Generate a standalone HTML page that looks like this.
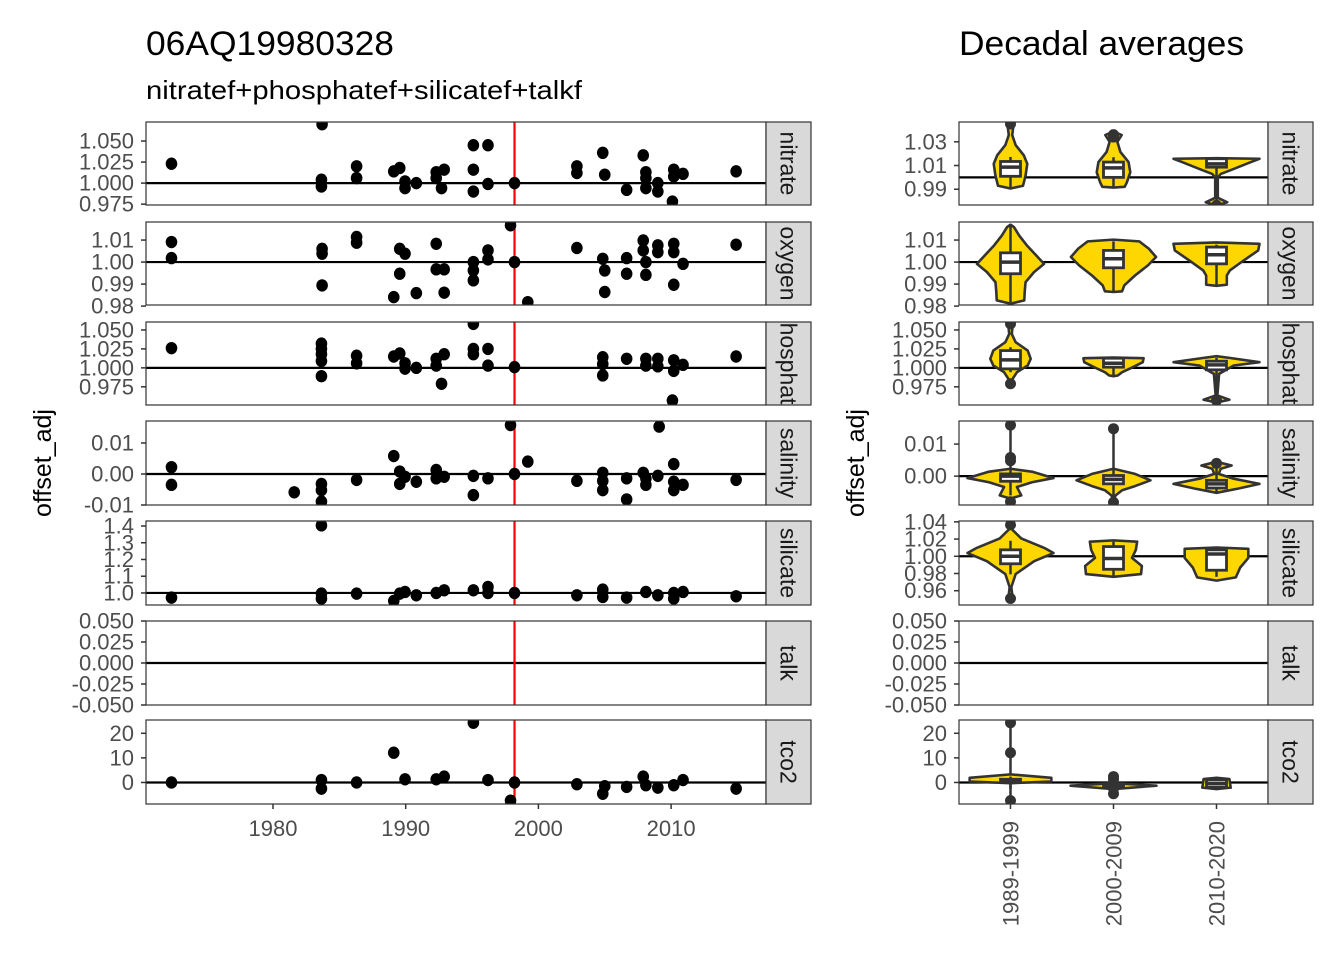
<!DOCTYPE html>
<html><head><meta charset="utf-8"><style>
html,body{margin:0;padding:0;background:#fff;}
svg{display:block;font-family:"Liberation Sans",Arial,sans-serif;}
</style></head><body>
<svg id="chart" width="1344" height="960" viewBox="0 0 1344 960" xmlns="http://www.w3.org/2000/svg">
<text x="146" y="55" font-size="34" fill="#000" textLength="248" lengthAdjust="spacingAndGlyphs">06AQ19980328</text>
<text x="146" y="99" font-size="26" fill="#000" textLength="436" lengthAdjust="spacingAndGlyphs">nitratef+phosphatef+silicatef+talkf</text>
<text x="959" y="55" font-size="34" fill="#000" textLength="285" lengthAdjust="spacingAndGlyphs">Decadal averages</text>
<text transform="translate(51,463) rotate(-90)" text-anchor="middle" font-size="25" fill="#000">offset_adj</text>
<text transform="translate(864,463) rotate(-90)" text-anchor="middle" font-size="25" fill="#000">offset_adj</text>
<g id="layer"></g>
</svg>
<script>
// ---------- data: left (time series) ----------
const vars = ["nitrate","oxygen","phosphate","salinity","silicate","talk","tco2"];
const stripLabels = ["nitrate","oxygen","hosphat","salinity","silicate","talk","tco2"];
const refYear = 1998.2;
const xTicks = [1980,1990,2000,2010];
const nitrateYear=[1972.35,1983.7,1983.65,1983.65,1986.3,1986.3,1989.1,1989.55,1989.95,1989.95,1990.8,1992.3,1992.9,1992.3,1992.7,1995.1,1996.2,1995.1,1996.2,1995.1,1998.2,2002.9,2002.9,2004.85,2005.0,2006.65,2007.9,2008.1,2008.1,2008.1,2009.0,2009.0,2010.2,2010.2,2010.9,2010.1,2014.9];
const nitrateVal=[1.023,1.070,1.004,0.996,1.020,1.006,1.014,1.018,1.002,0.994,1.000,1.013,1.016,1.006,0.994,1.045,1.045,1.016,0.999,0.990,1.000,1.020,1.012,1.036,1.010,0.992,1.033,1.013,1.006,0.994,1.000,0.990,1.016,1.008,1.011,0.978,1.014];
const oxygenYear=[1972.35,1972.35,1983.7,1983.7,1983.7,1986.3,1986.3,1989.55,1989.95,1989.55,1989.1,1990.8,1992.3,1992.3,1992.9,1992.9,1995.1,1995.1,1995.1,1996.2,1996.2,1997.9,1998.2,1999.2,2002.9,2004.85,2005.0,2005.0,2006.65,2006.65,2007.9,2007.9,2008.1,2008.1,2009.0,2009.0,2010.2,2010.2,2010.2,2010.9,2014.9];
const oxygenVal=[1.0091,1.0018,1.006,1.0038,0.9894,1.0114,1.0088,1.006,1.0038,0.9947,0.9841,0.9859,1.0083,0.9967,0.9967,0.9861,1.000,0.9962,0.9917,1.0053,1.0012,1.0167,1.000,0.9818,1.0064,1.0015,0.9962,0.9864,1.0018,0.9947,1.0098,1.0053,1.000,0.9942,1.0076,1.0045,1.0083,1.0045,0.9897,0.9992,1.0079];
const phosphateYear=[1972.35,1983.65,1983.65,1983.65,1983.65,1983.65,1986.3,1986.3,1989.1,1989.55,1989.95,1989.95,1990.8,1992.3,1992.9,1992.3,1992.7,1995.1,1995.1,1995.1,1996.2,1996.2,1998.2,2004.85,2004.85,2004.85,2006.65,2008.1,2008.1,2009.0,2009.0,2010.2,2010.2,2010.9,2010.1,2014.9];
const phosphateVal=[1.026,1.032,1.025,1.018,1.009,0.989,1.016,1.006,1.015,1.019,1.006,0.999,1.000,1.012,1.018,1.003,0.979,1.058,1.025,1.018,1.025,1.003,1.001,1.014,1.005,0.990,1.012,1.012,1.003,1.012,1.002,1.010,0.996,1.004,0.957,1.015];
const salinityYear=[1972.35,1972.35,1981.6,1983.65,1983.65,1983.65,1986.3,1989.1,1989.55,1989.95,1989.55,1990.8,1992.3,1992.3,1992.9,1995.1,1995.1,1996.2,1997.9,1998.2,1999.2,2002.9,2004.85,2004.85,2004.85,2006.65,2006.65,2007.9,2008.1,2008.1,2009.0,2009.1,2010.2,2010.2,2010.2,2010.9,2014.9];
const salinityVal=[0.0022,-0.0035,-0.0059,-0.0032,-0.0052,-0.0089,-0.0019,0.0058,0.0008,-0.0009,-0.0032,-0.0025,0.0013,-0.0014,-0.0009,-0.0006,-0.0068,-0.0014,0.0158,0,0.0040,-0.0022,0.0004,-0.0022,-0.0052,-0.0014,-0.0082,0.0004,-0.0014,-0.0035,-0.0006,0.0153,0.0032,-0.0025,-0.0052,-0.0035,-0.0019];
const silicateYear=[1972.35,1983.65,1983.65,1983.65,1986.3,1989.1,1989.55,1989.95,1990.8,1992.3,1992.9,1995.1,1996.2,1996.2,1998.2,2002.9,2004.85,2004.85,2006.65,2008.1,2009.0,2010.2,2010.2,2010.9,2014.9];
const silicateVal=[0.972,1.404,0.996,0.966,0.996,0.952,0.996,1.006,0.986,1.000,1.016,1.016,1.036,1.000,1.000,0.986,1.020,0.976,0.972,1.006,0.986,1.000,0.966,1.006,0.980];
const talkYear=[];
const talkVal=[];
const tco2Year=[1972.35,1983.65,1983.65,1986.3,1989.1,1989.95,1992.3,1992.9,1995.1,1996.2,1997.9,1998.2,2002.9,2004.85,2005.0,2006.65,2007.9,2008.1,2009.0,2010.2,2010.9,2014.9];
const tco2Val=[0,1.0,-2.5,0,12.1,1.3,1.3,2.4,24.3,1.0,-7.4,0,-0.7,-4.6,-1.5,-1.8,2.4,-1.1,-2.1,-1.1,1.0,-2.5];

// ---------- data: right (decadal violins) ----------
const decades = ["1989-1999","2000-2009","2010-2020"];
const nitrateVioVals=[[1.0458,1.0415,1.0357,1.0272,1.0186,1.0114,1.0014,0.9929,0.9906],[1.0386,1.0357,1.030,1.0215,1.0129,1.0043,0.9957,0.992,0.9914],[1.0162,1.0157,1.0129,1.0071,1.0029,1.0,0.9828,0.979,0.9763]];
const nitrateVioDens=[[0,0.06,0.04,0.12,0.31,0.39,0.35,0.29,0],[0,0.19,0.09,0.16,0.35,0.39,0.31,0.26,0],[0,1.0,0.8,0.4,0.1,0.03,0.03,0.25,0]];
const nitrateBox=[[0.9914,1.0009,1.0086,1.0134,1.0172],[0.992,1.000,1.008,1.0129,1.017],[0.978,1.0086,1.0114,1.0157,1.0157]];
const nitrateOut=[[1.045],[1.036,1.034],[0.9765]];
const oxygenVioVals=[[1.017,1.0159,1.0121,1.0076,1.003,0.9992,0.9955,0.9909,0.9864,0.9826,0.9811],[1.0102,1.0094,1.0061,1.0023,0.9985,0.9939,0.9894,0.9867,0.9864],[1.0089,1.0083,1.0053,1.0,0.9962,0.9939,0.9897,0.9892]];
const oxygenVioDens=[[0,0.08,0.2,0.38,0.6,0.78,0.55,0.35,0.33,0.32,0],[0,0.6,0.82,0.99,0.8,0.5,0.25,0.2,0],[0,1.0,0.97,0.58,0.31,0.24,0.24,0]];
const oxygenBox=[[0.9818,0.9947,1.0,1.0042,1.0167],[0.9867,0.9974,1.0015,1.0053,1.0094],[0.9897,0.9992,1.0033,1.0068,1.0079]];
const oxygenOut=[[],[],[]];
const phosphateVioVals=[[1.0601,1.0558,1.0448,1.0338,1.0228,1.0119,1.0031,0.9943,0.9855,0.978],[1.0136,1.0127,1.0075,1.0009,0.9943,0.9899,0.989],[1.0154,1.0132,1.0075,1.0031,0.9921,0.9636,0.958,0.9543]];
const phosphateVioDens=[[0,0.05,0.03,0.12,0.4,0.47,0.4,0.15,0.05,0],[0,0.7,0.68,0.45,0.2,0.1,0],[0,0.3,1.0,0.4,0.06,0.02,0.3,0]];
const phosphateBox=[[0.9943,0.9987,1.0105,1.0228,1.0272],[0.989,1.0009,1.0061,1.0127,1.0127],[0.962,0.9974,1.004,1.0088,1.0132]];
const phosphateOut=[[1.058,0.979],[],[0.957]];
const salinityVioVals=[[0.0023,0.0014,-0.0006,-0.0019,-0.0034,-0.006,-0.007],[0.0023,0.0007,-0.0013,-0.0031,-0.0044,-0.006,-0.0075],[0.0045,0.0033,0.0023,0.0007,-0.0008,-0.0024,-0.0039,-0.0052]];
const salinityVioDens=[[0,0.5,1.0,0.5,0.15,0.25,0],[0,0.5,0.86,0.5,0.2,0.05,0],[0,0.35,0.1,0.05,0.4,1.0,0.5,0]];
const salinityBox=[[-0.006,-0.0016,0,0.0007,0.0022],[-0.0075,-0.0024,-0.001,0.0002,0.0023],[-0.0052,-0.0037,-0.0024,-0.0013,0.0033]];
const salinityOut=[[0.0159,0.0058,0.0048,-0.008],[0.0148,-0.0082],[0.004]];
const silicateVioVals=[[1.0366,1.032,1.0207,1.0094,1.0038,0.9943,0.9793,0.9642,0.951,0.947],[1.0185,1.017,1.0075,0.9981,0.9887,0.9793,0.9762],[1.0102,1.0087,0.9981,0.9868,0.9755,0.9717]];
const silicateVioDens=[[0,0.02,0.25,0.8,1.0,0.55,0.12,0.02,0.05,0],[0,0.55,0.52,0.43,0.66,0.64,0],[0,0.74,0.74,0.55,0.45,0]];
const silicateBox=[[0.979,0.9913,1.0,1.0075,1.018],[0.9775,0.9849,0.9974,1.0113,1.017],[0.9762,0.9838,1.0026,1.0075,1.0087]];
const silicateOut=[[1.0366,0.951],[],[]];
const talkVioVals=[[],[],[]];
const talkVioDens=[[],[],[]];
const talkBox=[null,null,null];
const talkOut=[[],[],[]];
const tco2VioVals=[[3.3,1.9,0.4,-0.3],[-0.3,-1.3,-2.7],[1.9,1.4,-2.1,-2.7]];
const tco2VioDens=[[0,0.95,0.95,0],[0,1.0,0],[0,0.3,0.33,0]];
const tco2Box=[[-2.5,0.2,0.9,1.3,2.4],[-2.5,-2.0,-1.3,-0.5,1.0],[-2.5,-2.0,-0.5,1.0,1.0]];
const tco2Out=[[24.3,12.1,-7.4],[2.4,1.3,-4.6,-2.5],[]];

// ---------- layout (not data) ----------
const NS="http://www.w3.org/2000/svg";
const layer=document.getElementById('layer');
const rows=[[122,205],[222,305],[322,405],[421,505],[521,605],[621,705],[720,804]];
const L={x0:146,x1:766,s1:811}, R={x0:959,x1:1268,s1:1313};
const leftDom=[[1.0726,0.974],[1.0182,0.9805],[1.0605,0.951],[0.0171,-0.0100],[1.43,0.928],[0.05,-0.05],[25.4,-8.75]];
const rightDom=[[1.0467,0.9767],[1.0182,0.9805],[1.0605,0.951],[0.0172,-0.009],[1.041,0.9434],[0.05,-0.05],[25.4,-8.75]];
const leftTicks=[[1.05,1.025,1,0.975],[1.01,1.00,0.99,0.98],[1.05,1.025,1,0.975],[0.01,0,-0.01],[1.4,1.3,1.2,1.1,1.0],[0.05,0.025,0,-0.025,-0.05],[20,10,0]];
const leftTickLab=[["1.050","1.025","1.000","0.975"],["1.01","1.00","0.99","0.98"],["1.050","1.025","1.000","0.975"],["0.01","0.00","-0.01"],["1.4","1.3","1.2","1.1","1.0"],["0.050","0.025","0.000","-0.025","-0.050"],["20","10","0"]];
const rightTicks=[[1.03,1.01,0.99],[1.01,1.00,0.99,0.98],[1.05,1.025,1,0.975],[0.01,0],[1.04,1.02,1.00,0.98,0.96],[0.05,0.025,0,-0.025,-0.05],[20,10,0]];
const rightTickLab=[["1.03","1.01","0.99"],["1.01","1.00","0.99","0.98"],["1.050","1.025","1.000","0.975"],["0.01","0.00"],["1.04","1.02","1.00","0.98","0.96"],["0.050","0.025","0.000","-0.025","-0.050"],["20","10","0"]];
const ptYears=[nitrateYear,oxygenYear,phosphateYear,salinityYear,silicateYear,talkYear,tco2Year];
const ptVals=[nitrateVal,oxygenVal,phosphateVal,salinityVal,silicateVal,talkVal,tco2Val];
const vioVals=[nitrateVioVals,oxygenVioVals,phosphateVioVals,salinityVioVals,silicateVioVals,talkVioVals,tco2VioVals];
const vioDens=[nitrateVioDens,oxygenVioDens,phosphateVioDens,salinityVioDens,silicateVioDens,talkVioDens,tco2VioDens];
const boxes=[nitrateBox,oxygenBox,phosphateBox,salinityBox,silicateBox,talkBox,tco2Box];
const outs=[nitrateOut,oxygenOut,phosphateOut,salinityOut,silicateOut,talkOut,tco2Out];

const yearMin=1980-127/13.27, yearMax=1980+493/13.27;
const xYear=v=>L.x0+(v-yearMin)/(yearMax-yearMin)*(L.x1-L.x0);
const xCat=i=>R.x0+(i+0.5)/3*(R.x1-R.x0);
const yScale=(dom,row)=>v=>rows[row][0]+(dom[0]-v)/(dom[0]-dom[1])*(rows[row][1]-rows[row][0]);
function mk(tag,attrs,parent){const e=document.createElementNS(NS,tag);for(const k in attrs)e.setAttribute(k,attrs[k]);(parent||layer).appendChild(e);return e;}

function strip(x0,x1,r,label,name){
  const [t,b]=rows[r];
  const rect=mk('rect',{x:x0,y:t,width:x1-x0,height:b-t,fill:'#d9d9d9',stroke:'#333',"stroke-width":1.2});
  
  
  const cx=(x0+x1)/2, cy=(t+b)/2;
  const tx=mk('text',{transform:`translate(${cx-8},${cy}) rotate(90)`,"text-anchor":"middle","font-size":23,fill:'#1a1a1a'});
  tx.textContent=label;
  
  
}
function axisTicks(x0,r,ticks,labs,ys,name){
  ticks.forEach((tv,i)=>{
    const y=ys(tv);
    const l=mk('line',{x1:x0-5,x2:x0,y1:y,y2:y,stroke:'#333',"stroke-width":1.5});
    
    
    const t=mk('text',{x:x0-12,y:y+7.5,"text-anchor":"end","font-size":22,fill:'#4d4d4d'});
    t.textContent=labs[i];
    
    
  });
}

for(let r=0;r<7;r++){
  const [t,b]=rows[r];
  const nm=vars[r];
  const cid='clipL'+r;
  const cp=mk('clipPath',{id:cid}); mk('rect',{x:L.x0,y:t,width:L.x1-L.x0,height:b-t},cp);
  const gL=mk('g',{"clip-path":`url(#${cid})`});
  
  
  const ysL=yScale(leftDom[r],r);
  const base=(r===3||r>=5)?0:1;
  mk('rect',{x:L.x0,y:t,width:L.x1-L.x0,height:b-t,fill:'#fff'},gL);
  const zl=mk('line',{x1:L.x0,x2:L.x1,y1:ysL(base),y2:ysL(base),stroke:'#000',"stroke-width":2.2},gL);
  
  
  const rl=mk('line',{x1:xYear(refYear),x2:xYear(refYear),y1:t,y2:b,stroke:'#ff0000',"stroke-width":2.2},gL);
  
  
  ptYears[r].forEach((yr,i)=>{
    const c=mk('ellipse',{cx:xYear(yr),cy:ysL(ptVals[r][i]),rx:5.8,ry:6.2,fill:'#000'},gL);
    
    
  });
  const bl=mk('rect',{x:L.x0,y:t,width:L.x1-L.x0,height:b-t,fill:'none',stroke:'#333',"stroke-width":1.2});
  
  
  axisTicks(L.x0,r,leftTicks[r],leftTickLab[r],ysL,nm+'-left');
  strip(L.x1,L.s1,r,stripLabels[r],nm+'-left');

  const cid2='clipR'+r;
  const cp2=mk('clipPath',{id:cid2}); mk('rect',{x:R.x0,y:t,width:R.x1-R.x0,height:b-t},cp2);
  const gR=mk('g',{"clip-path":`url(#${cid2})`});
  
  
  const ysR=yScale(rightDom[r],r);
  const zr=mk('line',{x1:R.x0,x2:R.x1,y1:ysR(base),y2:ysR(base),stroke:'#000',"stroke-width":2.2},gR);
  
  
  for(let d=0;d<3;d++){
    const cx=xCat(d); const vv=vioVals[r][d], dd=vioDens[r][d], bx=boxes[r][d];
    if(bx){
      const wl=mk('line',{x1:cx,x2:cx,y1:ysR(Math.max(bx[4],...outs[r][d])),y2:ysR(Math.min(bx[0],...outs[r][d])),stroke:'#333',"stroke-width":2.5},gR);
      
      
    }
    if(vv.length){
      const W=43;
      let pts=vv.map((v,i)=>`${cx+dd[i]*W},${ysR(v)}`);
      let pts2=vv.slice().reverse().map((v,i)=>`${cx-dd[vv.length-1-i]*W},${ysR(v)}`);
      const p=mk('polygon',{points:pts.concat(pts2).join(' '),fill:'#FFD700',stroke:'#333',"stroke-width":2.6,"stroke-linejoin":"round"},gR);
      
      
    }
    if(bx){
      const wl2=mk('line',{x1:cx,x2:cx,y1:ysR(bx[4]),y2:ysR(bx[0]),stroke:'#333',"stroke-width":2.5},gR);
      
      
      const br=mk('rect',{x:cx-10,y:ysR(bx[3]),width:20,height:Math.max(1,ysR(bx[1])-ysR(bx[3])),fill:'#fff',stroke:'#333',"stroke-width":2.8},gR);
      
      
      const ml=mk('line',{x1:cx-10,x2:cx+10,y1:ysR(bx[2]),y2:ysR(bx[2]),stroke:'#333',"stroke-width":3.5},gR);
      
      
    }
    outs[r][d].forEach(v=>{
      const o=mk('circle',{cx:cx,cy:ysR(v),r:5.5,fill:'#333'},gR);
      
      
    });
  }
  const br2=mk('rect',{x:R.x0,y:t,width:R.x1-R.x0,height:b-t,fill:'none',stroke:'#333',"stroke-width":1.2});
  
  
  axisTicks(R.x0,r,rightTicks[r],rightTickLab[r],ysR,nm+'-right');
  strip(R.x1,R.s1,r,stripLabels[r],nm+'-right');
}
const yb=rows[6][1];
xTicks.forEach(v=>{
  const x=xYear(v);
  const l=mk('line',{x1:x,x2:x,y1:yb,y2:yb+5,stroke:'#333',"stroke-width":1.5});
  
  
  const t=mk('text',{x:x,y:yb+32,"text-anchor":"middle","font-size":22,fill:'#4d4d4d'});
  t.textContent=v;
  
  
});
decades.forEach((dl,i)=>{
  const x=xCat(i);
  const l=mk('line',{x1:x,x2:x,y1:yb,y2:yb+5,stroke:'#333',"stroke-width":1.5});
  
  
  const t=mk('text',{transform:`translate(${x+8},${yb+17}) rotate(-90)`,"text-anchor":"end","font-size":22,fill:'#4d4d4d'});
  t.textContent=dl;
  
  
});
</script>
</body></html>
